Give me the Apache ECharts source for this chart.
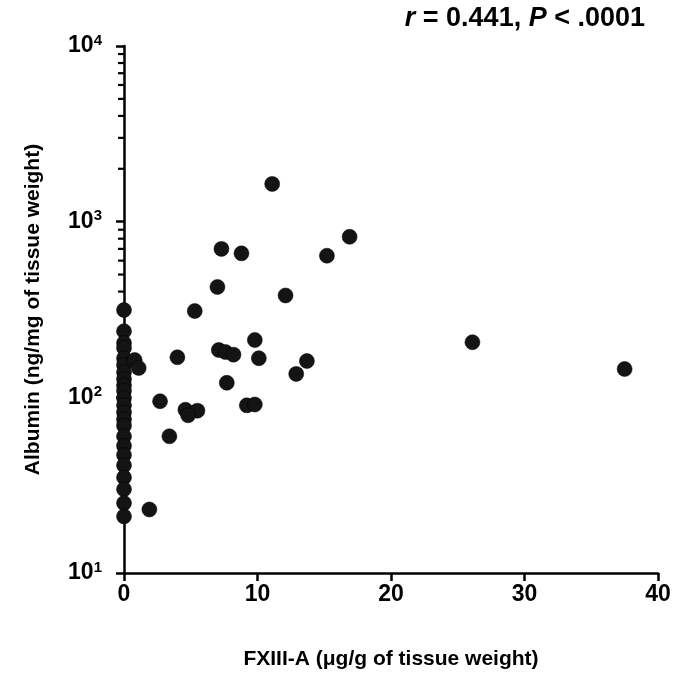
<!DOCTYPE html>
<html>
<head>
<meta charset="utf-8">
<script src="https://cdn.jsdelivr.net/npm/echarts@6/dist/echarts.min.js"></script>
<style>html,body{margin:0;padding:0;background:#fff}#c{width:679px;height:679px}</style>
</head>
<body>
<div id="c"></div>
<script>
// FXIII-A (µg/g) vs Albumin (ng/mg)
const fx = [
  0,0,0,0,0,0,0,0,0,0,0,0,0,0,0,0,0,0,0,0,0,0,0,
  0.8,1.1,
  11.1,16.9,7.3,8.8,15.2,7.0,12.1,5.3,9.8,26.1,4.0,7.1,7.6,8.2,10.1,13.7,12.9,37.5,7.7,2.7,9.2,9.8,4.6,5.5,4.8,3.4,1.9
];
const albumin = [
  314,238,204,191,167,153,139,127,117,109,99,90,82,75,69,60,53,47,41,35,30,25,21,
  163,147,
  1640,820,700,660,640,425,380,310,212,206,169,186,181,175,167,161,136,145,121,95,90,91,85,84,79,60,23
];
const minorTickValues = [20,30,40,50,60,70,80,90,200,300,400,500,600,700,800,900,2000,3000,4000,5000,6000,7000,8000,9000];
const xName = 'FXIII-A (μg/g of tissue weight)';
const yName = 'Albumin (ng/mg of tissue weight)';

const FONT = 'Liberation Sans, Arial, sans-serif';
const chart = echarts.init(document.getElementById('c'), null, {renderer:'canvas'});
const pts = fx.map((x,i)=>[x, albumin[i]]);
chart.setOption({
  animation:false,
  backgroundColor:'#fff',
  grid:{left:124, right:21, top:46, bottom:106, containLabel:false},
  xAxis:{
    type:'value', min:0, max:40, interval:10,
    name:xName, nameLocation:'middle', nameGap:76,
    nameTextStyle:{fontFamily:FONT, fontWeight:'bold', fontSize:21, color:'#000'},
    axisLine:{show:true, onZero:false, lineStyle:{color:'#000', width:2.5}},
    axisTick:{show:true, inside:false, length:8, lineStyle:{color:'#000', width:2.5}},
    axisLabel:{fontFamily:FONT, fontWeight:'bold', fontSize:23, color:'#000', margin:10},
    splitLine:{show:false}
  },
  yAxis:{
    type:'log', logBase:10, min:10, max:10000,
    name:yName, nameLocation:'middle', nameGap:80,
    nameTextStyle:{fontFamily:FONT, fontWeight:'bold', fontSize:21, color:'#000'},
    axisLine:{show:true, lineStyle:{color:'#000', width:2.5}},
    axisTick:{show:true, length:8, lineStyle:{color:'#000', width:2.5}},
    axisLabel:{
      margin:22,
      formatter:function(v){ const e=Math.round(Math.log10(v)); return '{b|10}{s|'+e+'}'; },
      rich:{
        b:{fontFamily:FONT, fontWeight:'bold', fontSize:23, color:'#000'},
        s:{fontFamily:FONT, fontWeight:'bold', fontSize:15, color:'#000', padding:[0,0,11,0]}
      }
    },
    splitLine:{show:false}
  },
  graphic:[{
    type:'text', right:34, top:5,
    style:{
      text:'{i|r} = 0.441, {i|P} < .0001',
      rich:{
        i:{fontFamily:FONT, fontWeight:'bold', fontStyle:'italic', fontSize:27, fill:'#000'}
      },
      font:'bold 27px Liberation Sans, Arial, sans-serif', fill:'#000'
    }
  }],
  series:[
    {
      type:'custom', coordinateSystem:'cartesian2d', clip:false, silent:true, z:1,
      data:minorTickValues.map(v=>[0,v]),
      renderItem:function(params, api){
        const p = api.coord([0, api.value(1)]);
        return {type:'line', shape:{x1:p[0]-6, y1:p[1], x2:p[0], y2:p[1]}, style:{stroke:'#000', lineWidth:2.2}};
      }
    },
    {
      type:'scatter', data:pts, symbol:'circle', symbolSize:15, clip:false, z:3,
      itemStyle:{color:'#141414', opacity:1, borderColor:'#000', borderWidth:0.5}
    }
  ]
});
</script>
</body>
</html>
